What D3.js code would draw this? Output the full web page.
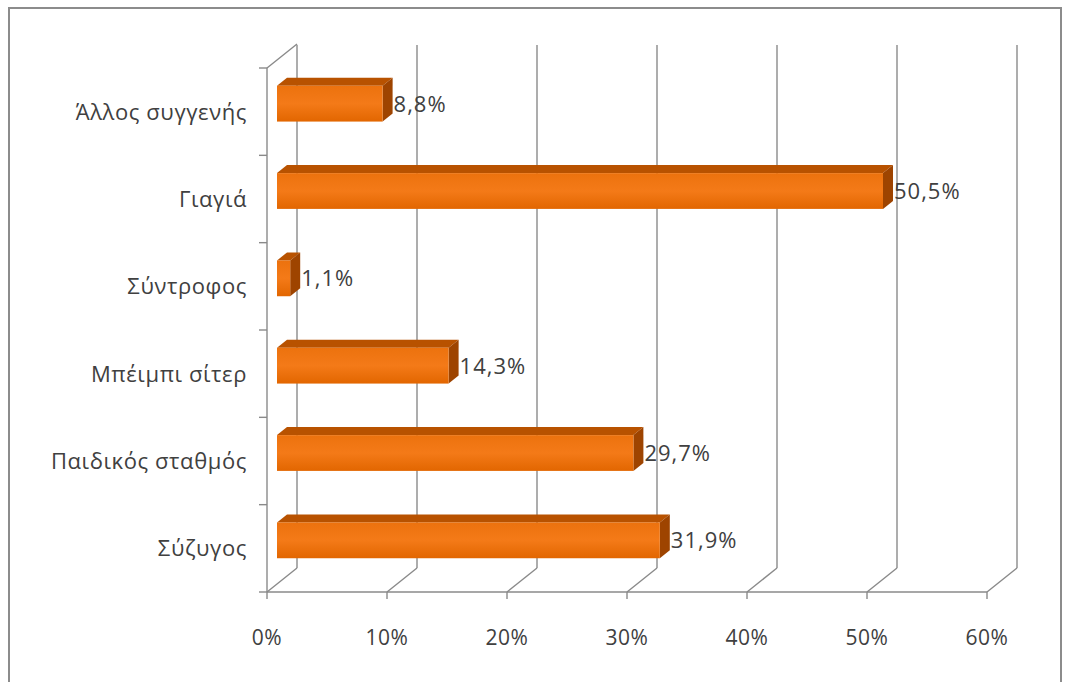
<!DOCTYPE html>
<html><head><meta charset="utf-8">
<script src="https://cdn.jsdelivr.net/npm/d3@7"></script>
<style>html,body{margin:0;padding:0;background:#fff;}svg{display:block;}</style>
</head><body>
<script>
const categories = ["Άλλος συγγενής","Γιαγιά","Σύντροφος","Μπέιμπι σίτερ","Παιδικός σταθμός","Σύζυγος"];
const values = [8.8, 50.5, 1.1, 14.3, 29.7, 31.9];
const valueLabels = ["8,8%","50,5%","1,1%","14,3%","29,7%","31,9%"];
const tickValues = [0,10,20,30,40,50,60];
const tickLabels = ["0%","10%","20%","30%","40%","50%","60%"];

const W = 1068, H = 682;
const svg = d3.select("body").append("svg").attr("width", W).attr("height", H);
const FONT = "'Open Sans', sans-serif";

svg.append("path").attr("d", `M9,682 L9,8 L1061,8 L1061,682`).attr("fill","none").attr("stroke","#8c8c8c").attr("stroke-width",2);

const x = d3.scaleLinear().domain([0,60]).range([267,987]);
const y = d3.scaleBand().domain(categories).range([68,592]).paddingInner(0.59).paddingOuter(0.295);
const DX = 30, DY = -24;
const gridColor = "#8a8a8a";

const g = svg.append("g");
g.selectAll("line.grid").data(tickValues).join("line")
  .attr("x1", d => x(d)+DX).attr("x2", d => x(d)+DX)
  .attr("y1", 45).attr("y2", 592+DY)
  .attr("stroke", gridColor).attr("stroke-width",1.4);
g.selectAll("line.diag").data(tickValues).join("line")
  .attr("x1", d => x(d)).attr("y1", 592)
  .attr("x2", d => x(d)+DX).attr("y2", 592+DY)
  .attr("stroke", gridColor).attr("stroke-width",1.4);
g.append("line").attr("x1", x(0)).attr("x2", x(60)).attr("y1",592).attr("y2",592).attr("stroke",gridColor).attr("stroke-width",1.4);
g.selectAll("line.xt").data(tickValues).join("line")
  .attr("x1", d=>x(d)).attr("x2", d=>x(d)).attr("y1",592).attr("y2",599)
  .attr("stroke",gridColor).attr("stroke-width",1.4);
g.append("line").attr("x1",267).attr("x2",267).attr("y1",68).attr("y2",592).attr("stroke",gridColor).attr("stroke-width",1.4);
g.append("line").attr("x1",267).attr("y1",68).attr("x2",267+DX).attr("y2",68+DY).attr("stroke",gridColor).attr("stroke-width",1.4);
const boundaries = categories.map(c => y(c) - y.step()*y.paddingInner()/2).concat([592]);
g.selectAll("line.yt").data(boundaries).join("line")
  .attr("x1",259).attr("x2",267).attr("y1",d=>d).attr("y2",d=>d)
  .attr("stroke",gridColor).attr("stroke-width",1.4);

svg.selectAll("text.xl").data(tickValues).join("text")
  .attr("x", d=>x(d)).attr("y", 637).attr("dy","0.36em").attr("text-anchor","middle")
  .attr("font-family",FONT).attr("font-size",21).attr("letter-spacing",0.6).attr("fill","#404040")
  .text((d,i)=>tickLabels[i]);
svg.selectAll("text.yl").data(categories).join("text")
  .attr("x", 247).attr("y", d => y(d)+y.bandwidth()/2).attr("dy","0.36em").attr("text-anchor","end")
  .attr("font-family",FONT).attr("font-size",22).attr("letter-spacing",0.6).attr("fill","#404040")
  .text(d=>d);

const f1 = 1/3, f2 = 2/3;
const ox = DX*f1, oy = DY*f1, bx = DX*(f2-f1), by = DY*(f2-f1);
const defs = svg.append("defs");
const grad = defs.append("linearGradient").attr("id","face").attr("x1",0).attr("y1",0).attr("x2",0).attr("y2",1);
grad.append("stop").attr("offset","0%").attr("stop-color","#ec720e");
grad.append("stop").attr("offset","50%").attr("stop-color","#f47a18");
grad.append("stop").attr("offset","100%").attr("stop-color","#e26600");

const bars = svg.selectAll("g.bar").data(categories.map((c,i)=>({c, v:values[i], l:valueLabels[i]}))).join("g");
bars.each(function(d){
  const sel = d3.select(this);
  const x0 = x(0)+ox, x1 = x(d.v)+ox;
  const y0 = y(d.c)+oy, y1 = y(d.c)+y.bandwidth()+oy;
  sel.append("path").attr("d", `M${x0},${y0} L${x1},${y0} L${x1+bx},${y0+by} L${x0+bx},${y0+by} Z`).attr("fill","#b85200");
  sel.append("path").attr("d", `M${x1},${y0} L${x1+bx},${y0+by} L${x1+bx},${y1+by} L${x1},${y1} Z`).attr("fill","#9e4400");
  sel.append("rect").attr("x",x0).attr("y",y0).attr("width",x1-x0).attr("height",y1-y0).attr("fill","url(#face)");
  sel.append("text").attr("x", x1+bx+1).attr("y",(y0+y1)/2).attr("dy","0.36em")
    .attr("font-family",FONT).attr("font-size",22).attr("letter-spacing",1).attr("fill","#404040").text(d.l);
});
</script>
</body></html>
